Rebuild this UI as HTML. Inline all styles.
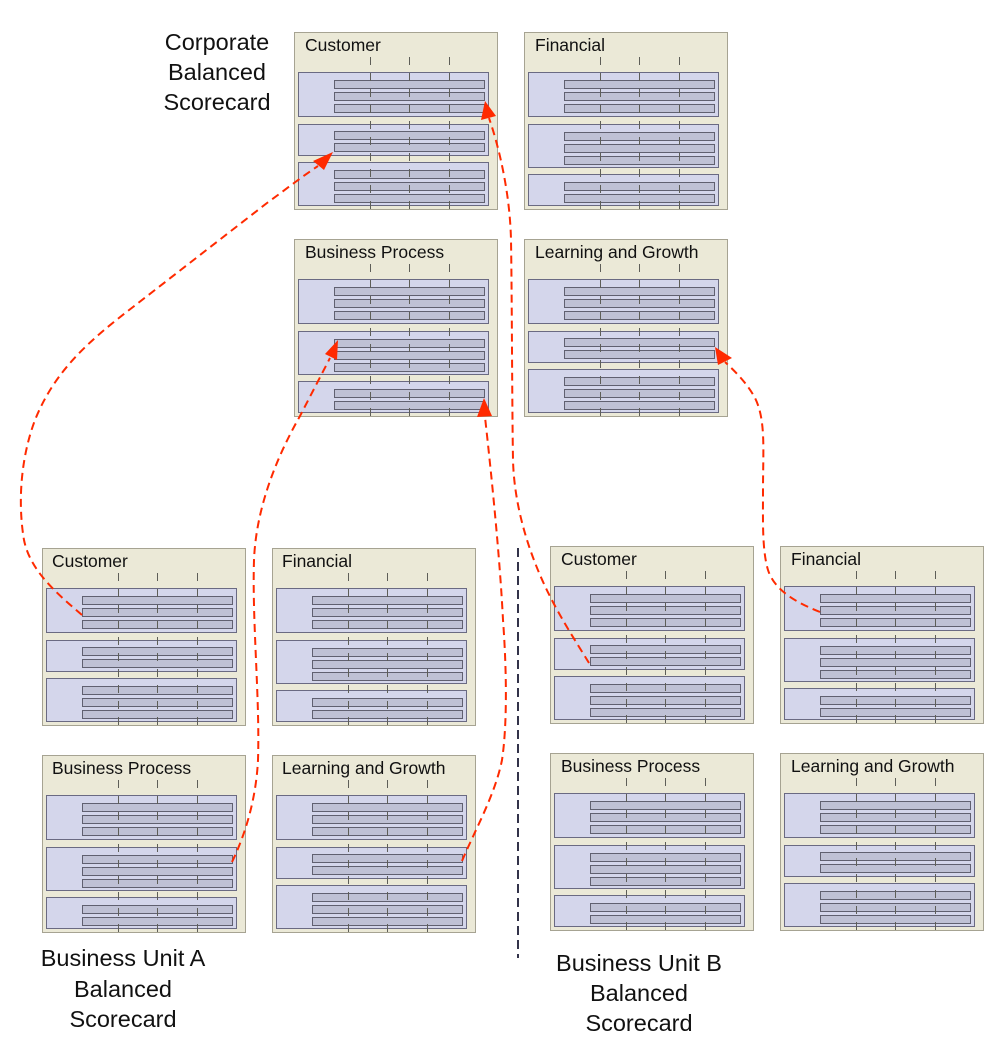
<!DOCTYPE html>
<html>
<head>
<meta charset="utf-8">
<style>
  html,body{margin:0;padding:0;background:#fff;}
  svg{display:block;}
  .t{font-family:"Liberation Sans",Arial,sans-serif;font-size:17.5px;fill:#111;}
  .big{font-family:"Liberation Sans",Arial,sans-serif;font-size:23.5px;fill:#111;text-anchor:middle;}
  .red{fill:none;stroke:#ff2a00;stroke-width:2;stroke-dasharray:8 5;}
  .ah{fill:#ff2a00;}
</style>
</head>
<body>
<svg width="994" height="1044" viewBox="0 0 994 1044" xmlns="http://www.w3.org/2000/svg">
  <defs>
    <g id="lines">
      <g stroke="#5e5e58" stroke-width="1" stroke-dasharray="8 8">
        <line x1="76.5" y1="25" x2="76.5" y2="177"/>
        <line x1="115.5" y1="25" x2="115.5" y2="177"/>
        <line x1="155.5" y1="25" x2="155.5" y2="177"/>
      </g>
    </g>
    <!-- Layout A: 3,2,3 -->
    <g id="pA">
      <rect x="0.5" y="0.5" width="203" height="177" fill="#ebe9d7" stroke="#a6a392"/>
      <g fill="#d4d6eb" stroke="#6a6a82">
        <rect x="4.5" y="40.5" width="190" height="44"/>
        <rect x="4.5" y="92.5" width="190" height="31"/>
        <rect x="4.5" y="130.5" width="190" height="43"/>
      </g>
      <g fill="#bfc1d5" stroke="#606070">
        <rect x="40.5" y="48.5" width="150" height="8"/>
        <rect x="40.5" y="60.5" width="150" height="8"/>
        <rect x="40.5" y="72.5" width="150" height="8"/>
        <rect x="40.5" y="99.5" width="150" height="8"/>
        <rect x="40.5" y="111.5" width="150" height="8"/>
        <rect x="40.5" y="138.5" width="150" height="8"/>
        <rect x="40.5" y="150.5" width="150" height="8"/>
        <rect x="40.5" y="162.5" width="150" height="8"/>
      </g>
      <use href="#lines"/>
    </g>
    <!-- Layout B: 3,3,2 -->
    <g id="pB">
      <rect x="0.5" y="0.5" width="203" height="177" fill="#ebe9d7" stroke="#a6a392"/>
      <g fill="#d4d6eb" stroke="#6a6a82">
        <rect x="4.5" y="40.5" width="190" height="44"/>
        <rect x="4.5" y="92.5" width="190" height="43"/>
        <rect x="4.5" y="142.5" width="190" height="31"/>
      </g>
      <g fill="#bfc1d5" stroke="#606070">
        <rect x="40.5" y="48.5" width="150" height="8"/>
        <rect x="40.5" y="60.5" width="150" height="8"/>
        <rect x="40.5" y="72.5" width="150" height="8"/>
        <rect x="40.5" y="100.5" width="150" height="8"/>
        <rect x="40.5" y="112.5" width="150" height="8"/>
        <rect x="40.5" y="124.5" width="150" height="8"/>
        <rect x="40.5" y="150.5" width="150" height="8"/>
        <rect x="40.5" y="162.5" width="150" height="8"/>
      </g>
      <use href="#lines"/>
    </g>
  </defs>

  <!-- Corporate -->
  <g transform="translate(294,32)"><use href="#pA"/><text class="t" x="11" y="19">Customer</text></g>
  <g transform="translate(524,32)"><use href="#pB"/><text class="t" x="11" y="19">Financial</text></g>
  <g transform="translate(294,239)"><use href="#pB"/><text class="t" x="11" y="19">Business Process</text></g>
  <g transform="translate(524,239)"><use href="#pA"/><text class="t" x="11" y="19">Learning and Growth</text></g>

  <!-- Business Unit A -->
  <g transform="translate(42,548)"><use href="#pA"/><text class="t" x="10" y="19">Customer</text></g>
  <g transform="translate(272,548)"><use href="#pB"/><text class="t" x="10" y="19">Financial</text></g>
  <g transform="translate(42,755)"><use href="#pB"/><text class="t" x="10" y="19">Business Process</text></g>
  <g transform="translate(272,755)"><use href="#pA"/><text class="t" x="10" y="19">Learning and Growth</text></g>

  <!-- Business Unit B -->
  <g transform="translate(550,546)"><use href="#pA"/><text class="t" x="11" y="19">Customer</text></g>
  <g transform="translate(780,546)"><use href="#pB"/><text class="t" x="11" y="19">Financial</text></g>
  <g transform="translate(550,753)"><use href="#pB"/><text class="t" x="11" y="19">Business Process</text></g>
  <g transform="translate(780,753)"><use href="#pA"/><text class="t" x="11" y="19">Learning and Growth</text></g>

  <!-- Divider -->
  <line x1="518" y1="548" x2="518" y2="958" stroke="#33334a" stroke-width="2" stroke-dasharray="9 5"/>

  <!-- Labels -->
  <text class="big" x="217" y="50">Corporate</text>
  <text class="big" x="217" y="80">Balanced</text>
  <text class="big" x="217" y="110">Scorecard</text>

  <text class="big" x="123" y="966">Business Unit A</text>
  <text class="big" x="123" y="997">Balanced</text>
  <text class="big" x="123" y="1027">Scorecard</text>

  <text class="big" x="639" y="971">Business Unit B</text>
  <text class="big" x="639" y="1001">Balanced</text>
  <text class="big" x="639" y="1031">Scorecard</text>

  <!-- Red connectors -->
  <path class="red" d="M82,615 C55,592 30,570 24,540 C18,505 20,460 35,420 C55,370 90,340 133,307 L267,203 C285,190 300,178 318,166"/>
  <polygon class="ah" points="333,152 313,161 324,170"/>

  <path class="red" d="M232,862 C245,835 256,800 258,760 C260,700 252,620 254,560 C256,510 275,460 300,416 L330,358"/>
  <polygon class="ah" points="338,340 325,354 337,360"/>

  <path class="red" d="M462,861 C475,830 495,795 502,760 C508,720 506,660 503,620 C500,560 492,480 485,417"/>
  <polygon class="ah" points="484,398 477,417 492,416"/>

  <path class="red" d="M589,663 C575,640 555,610 540,575 C525,540 514,500 513,460 C512,400 512,300 511,240 C510,195 500,150 489,118"/>
  <polygon class="ah" points="485,101 481,120 496,116"/>

  <path class="red" d="M820,612 C800,604 775,592 768,570 C762,550 763,520 763,490 C763,450 766,420 755,398 C748,385 738,374 725,362"/>
  <polygon class="ah" points="715,347 718,365 732,358"/>
</svg>
</body>
</html>
